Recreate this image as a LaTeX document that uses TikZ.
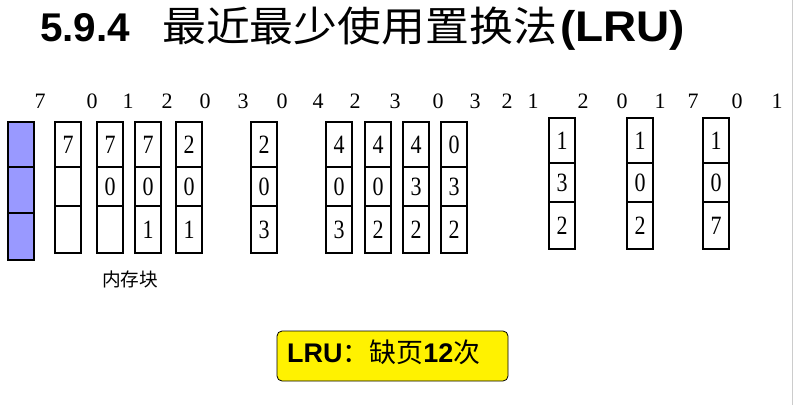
\documentclass[tikz,border=0pt]{standalone}
\usepackage{fontspec}
\setmainfont{Liberation Serif}
\setsansfont{Liberation Sans}
\newfontfamily\cjk{Noto Sans CJK SC}
\usetikzlibrary{positioning}
\definecolor{memblue}{HTML}{9999FF}

\begin{document}
\begin{tikzpicture}[x=1pt,y=-1pt,
    seqnum/.style={anchor=base,font=\fontsize{22}{24}\selectfont},
    cellnum/.style={font=\fontsize{22}{24}\selectfont},
    memcol/.style={draw=black,line width=1.6pt}]
    \tikzstyle{every node}+=[inner sep=0pt]
    \useasboundingbox (0,0) rectangle (794,405);
    \draw [gray!40,line width=1pt] (792,0) -- (792,405);
    % title
    \node [anchor=north west] (ttlnum) at (40,13) {\resizebox{90pt}{28pt}{\sffamily\bfseries 5.9.4}};
    \node [anchor=north west] (ttlcn) at (162,7) {\resizebox*{395pt}{38pt}{\cjk 最近最少使用置换法}};
    \node [anchor=north west] (ttllru) at (560,10) {\resizebox*{125pt}{40pt}{\sffamily\bfseries (LRU)}};
    % reference string
    \foreach \x/\v [count=\i] in {40/7,92/0,128/1,167/2,205/0,243/3,282/0,318/4,355/2,395/3,
                                  438/0,475/3,507/2,533/1,583/2,622/0,660/1,693/7,737/0,777/1}
        \node [seqnum] (s\i) at (\x,108) {\v};
    % memory blocks
    \draw [fill=memblue,draw=black,line width=1.2pt] (8,122) rectangle (34,260);
    \draw [line width=1.2pt] (8,167) -- (34,167);
    \draw [line width=1.2pt] (8,213) -- (34,213);
    \foreach \n/\xl/\yt/\a/\b/\c in {1/55/122/7/{}/{},2/97/122/7/0/{},3/135/122/7/0/1,4/176/122/2/0/1,
                                     5/251/122/2/0/3,6/326/122/4/0/3,7/365/122/4/0/2,8/403/122/4/3/2,
                                     9/441/122/0/3/2,10/549/118/1/3/2,11/627/118/1/0/2,12/703/118/1/0/7}{
        \draw [memcol] (\xl,\yt) rectangle (\xl+26,\yt+131);
        \draw [memcol] (\xl,\yt+45) -- (\xl+26,\yt+45);
        \draw [memcol] (\xl,\yt+84) -- (\xl+26,\yt+84);
        \node [cellnum] (b\n-1) at (\xl+13,\yt+22.5) {\scalebox{1}[1.2]{\a}};
        \node [cellnum] (b\n-2) at (\xl+13,\yt+64.5) {\scalebox{1}[1.2]{\b}};
        \node [cellnum] (b\n-3) at (\xl+13,\yt+107.5) {\scalebox{1}[1.2]{\c}};
    }
    \node [anchor=base west] (memlbl) at (102,286) {\resizebox{56pt}{!}{\fontsize{19}{21}\selectfont\cjk 内存块}};
    % result
    \node [draw,fill=yellow,rounded corners=5pt,line width=0.8pt,
           minimum width=231pt,minimum height=50pt] (lrubox) at (392.5,356) {};
    \node [anchor=base west] (lrutext) at (287,362)
        {\resizebox{193pt}{!}{\fontsize{27}{29}\selectfont\sffamily\bfseries LRU{\cjk\mdseries ：缺页}12{\cjk\mdseries 次}}};
\end{tikzpicture}
\end{document}
